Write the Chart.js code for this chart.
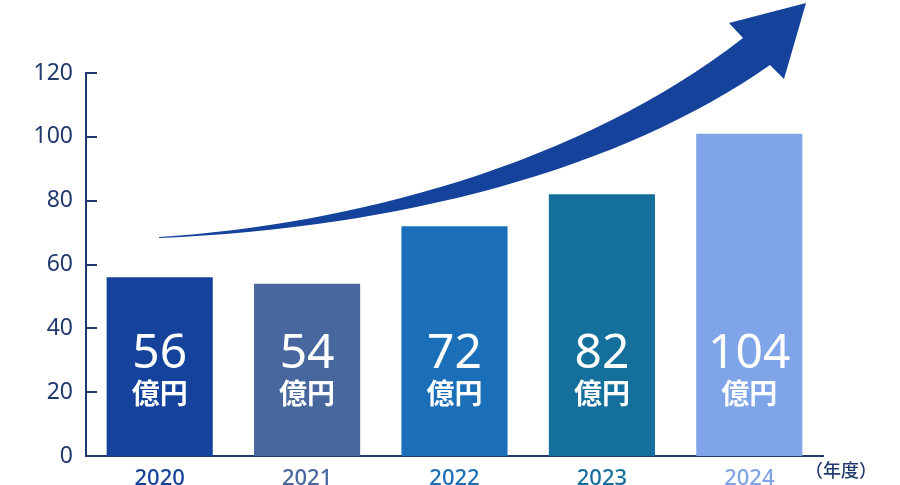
<!DOCTYPE html>
<html>
<head>
<meta charset="utf-8">
<script src="https://cdn.jsdelivr.net/npm/chart.js@4.4.1/dist/chart.umd.min.js"></script>
<style>
  html, body { margin: 0; padding: 0; background: #fff; }
  #wrap { width: 900px; height: 485px; }
</style>
</head>
<body>
<div id="wrap"><canvas id="myChart"></canvas></div>
<script>
const years = ["2020", "2021", "2022", "2023", "2024"];
const sales = [56, 54, 72, 82, 101];
const salesLabels = ["56", "54", "72", "82", "104"];
const unitLabel = "億円";
const yTicks = [0, 20, 40, 60, 80, 100, 120];
const barColors = ['#15439b', '#47679e', '#1b6fb9', '#156f9d', '#7fa4e7'];

const navy = '#213a6e';
const numFont = '"Noto Sans", sans-serif';
const jpFont = '"Noto Sans CJK JP", sans-serif';

// short tick marks on the inside of the y axis
const innerTicks = {
    id: 'innerTicks',
    afterDraw(chart) {
        const c = chart.ctx;
        const y = chart.scales.y;
        c.save();
        c.strokeStyle = navy;
        c.lineWidth = 2;
        yTicks.forEach(v => {
            const py = Math.round(y.getPixelForValue(v));
            c.beginPath();
            c.moveTo(y.right, py);
            c.lineTo(y.right + 11, py);
            c.stroke();
        });
        c.restore();
    }
};

// value text inside bars + unit label on x axis
const barText = {
    id: 'barText',
    afterDatasetsDraw(chart) {
        const c = chart.ctx;
        const meta = chart.getDatasetMeta(0);
        const y = chart.scales.y;
        c.save();
        c.fillStyle = '#fff';
        c.textAlign = 'center';
        c.textBaseline = 'middle';
        meta.data.forEach((bar, i) => {
            c.font = '400 48px ' + numFont;
            c.fillText(salesLabels[i], bar.x, y.getPixelForValue(32));
            c.font = '700 28px ' + jpFont;
            c.fillText(unitLabel, bar.x, y.getPixelForValue(19.5));
        });
        c.fillStyle = navy;
        c.font = '500 18px ' + jpFont;
        c.textAlign = 'left';
        c.fillText('（年度）', chart.chartArea.right - 18, chart.chartArea.bottom + 14);
        c.restore();
    }
};

// growth arrow drawn under the bars
const growthArrow = {
    id: 'growthArrow',
    beforeDatasetsDraw(chart) {
        const c = chart.ctx;
        c.save();
        c.fillStyle = '#15439b';
        c.beginPath();
        c.moveTo(159, 237);
        c.bezierCurveTo(350, 225, 580, 165, 743, 38);
        c.lineTo(729, 23);
        c.lineTo(806, 3);
        c.lineTo(784, 79);
        c.lineTo(770, 65);
        c.bezierCurveTo(620, 170, 400, 228, 159, 238);
        c.closePath();
        c.fill();
        c.restore();
    }
};

const ctx = document.getElementById('myChart').getContext('2d');
const myChart = new Chart(ctx, {
    type: 'bar',
    data: {
        labels: years,
        datasets: [{
            data: sales,
            backgroundColor: barColors,
            borderWidth: 0,
            categoryPercentage: 1,
            barPercentage: 0.72
        }]
    },
    options: {
        responsive: true,
        maintainAspectRatio: false,
        animation: false,
        layout: { padding: { top: 73, right: 77, left: 0, bottom: 0 } },
        plugins: {
            legend: { display: false },
            tooltip: { enabled: false }
        },
        scales: {
            x: {
                grid: { display: false },
                border: { color: navy, width: 2 },
                ticks: {
                    color: c => barColors[c.index],
                    font: { family: numFont, size: 22, weight: '500' },
                    padding: 2
                },
                afterFit: s => { s.height = 29; }
            },
            y: {
                min: 0,
                max: 120,
                afterBuildTicks: s => { s.ticks = yTicks.map(v => ({ value: v })); },
                grid: { display: false },
                border: { color: navy, width: 2 },
                ticks: {
                    color: navy,
                    font: { family: numFont, size: 23, weight: '400' },
                    padding: 5
                },
                afterFit: s => { s.width = 86; }
            }
        }
    },
    plugins: [growthArrow, barText, innerTicks]
});
</script>
</body>
</html>
